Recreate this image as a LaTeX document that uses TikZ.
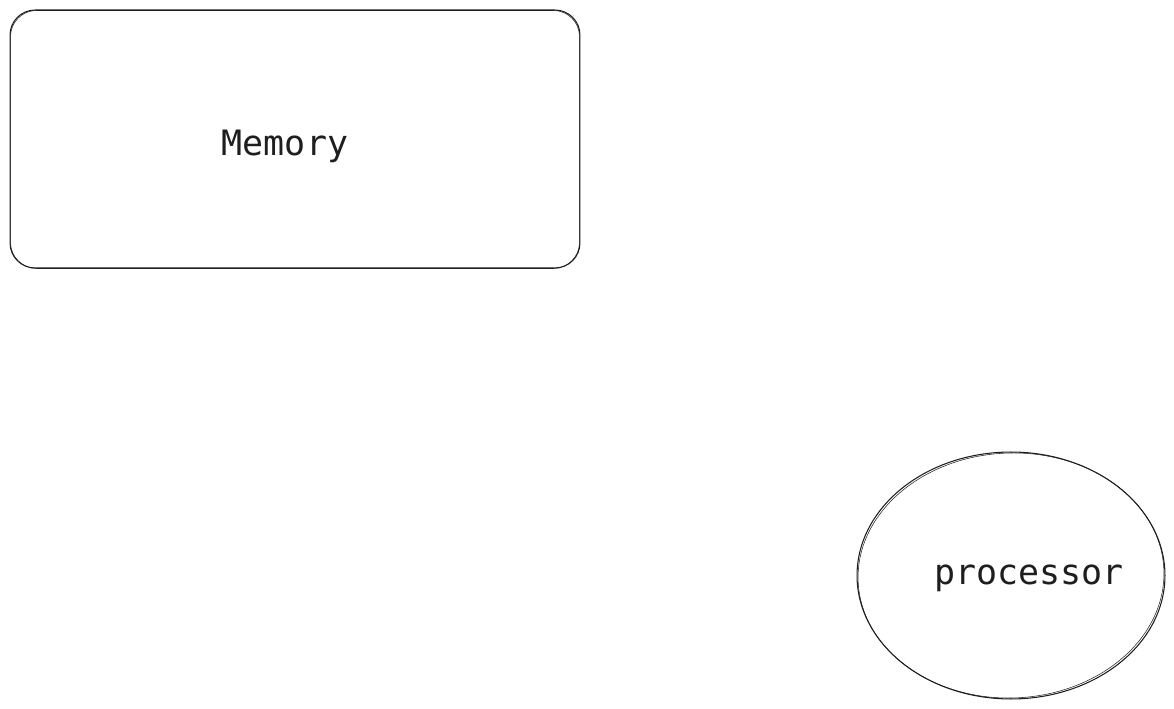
\documentclass[tikz,border=0pt]{standalone}
\usepackage{fontspec}
\setmonofont{DejaVu Sans Mono}
\usetikzlibrary{positioning, shapes.geometric}
\definecolor{inkgray}{RGB}{30, 30, 30}

\begin{document}
\begin{tikzpicture}[x=0.02cm, y=-0.02cm,
                sketch/.style={draw=inkgray, line width=0.6pt},
                membox/.style={sketch, rounded corners=0.5cm,
                    minimum width=11.4cm, minimum height=5.16cm, inner sep=0pt},
                procshape/.style={sketch, ellipse,
                    minimum width=6.16cm, minimum height=4.94cm, inner sep=0pt},
                lbl/.style={text=inkgray, inner sep=0pt, text depth=0pt,
                    font=\ttfamily\fontsize{19.9pt}{24pt}\selectfont}
            ]
            \useasboundingbox (0, 0) rectangle (1174, 709);

            \node[membox] (memory) at (295, 139) {};
            \draw[sketch, line width=0.3pt, rounded corners=0.52cm]
                ([shift={(1, 1)}]memory.north west) rectangle ([shift={(-1, 0)}]memory.south east);
            \node[lbl, text height=0.73em] (memlabel) at ([xshift=-0.2cm, yshift=-0.2cm]memory.center) {Memory};

            \node[procshape] (proc) at (1011, 575.5) {};
            \draw[sketch, line width=0.3pt, rotate around={2:(proc.center)}]
                (proc.center) ellipse [x radius=3.06cm, y radius=2.45cm];
            \node[lbl, text height=0.55em] (proclabel) at ([xshift=0.36cm, yshift=-0.09cm]proc.center) {processor};

            \end{tikzpicture}
\end{document}
